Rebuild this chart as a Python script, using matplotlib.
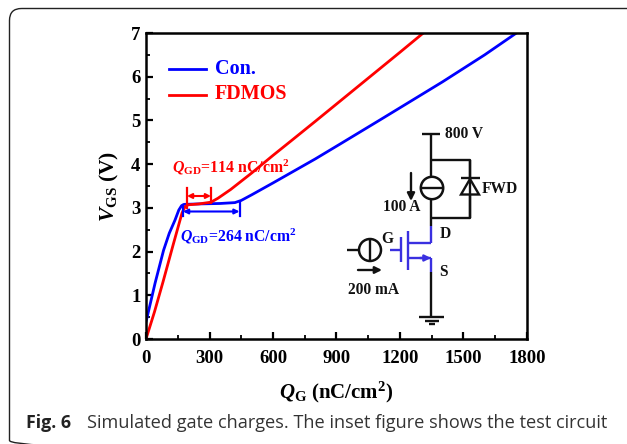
import matplotlib
matplotlib.use('Agg')
import matplotlib.pyplot as plt
from matplotlib.patches import FancyBboxPatch, Circle

W, H = 627, 444
con_q = [0, 3, 43, 83, 110, 137, 155, 168, 180, 250, 350, 420, 450, 500, 600, 800, 917, 1105, 1200, 1400, 1600, 1750]
con_v = [0.4, 0.45, 1.28, 2.03, 2.42, 2.72, 2.95, 3.05, 3.08, 3.09, 3.1, 3.12, 3.17, 3.3, 3.57, 4.12, 4.46, 5.01, 5.29, 5.88, 6.5, 7.0]
fd_q = [0, 40, 80, 128, 170, 185, 200, 250, 307, 340, 400, 500, 600, 690, 800, 1000, 1200, 1310]
fd_v = [0.0, 0.62, 1.3, 2.15, 2.88, 3.03, 3.07, 3.09, 3.13, 3.22, 3.42, 3.8, 4.2, 4.55, 4.98, 5.77, 6.56, 7.0]
x_ticks = [0, 300, 600, 900, 1200, 1500, 1800]
y_ticks = [0, 1, 2, 3, 4, 5, 6, 7]
caption = 'Simulated gate charges. The inset figure shows the test circuit'

plt.rcParams['font.family'] = ['Liberation Serif']
plt.rcParams['mathtext.fontset'] = 'custom'
plt.rcParams['mathtext.rm'] = 'Liberation Serif:bold'
plt.rcParams['mathtext.it'] = 'Liberation Serif:bold:italic'
plt.rcParams['mathtext.bf'] = 'Liberation Serif:bold'

BLUE, RED = '#0000FF', '#FF0000'
fig = plt.figure(figsize=(W/100, H/100), dpi=100)
bg = fig.add_axes([0, 0, 1, 1]); bg.set_xlim(0, W); bg.set_ylim(H, 0); bg.axis('off')
bg.add_patch(FancyBboxPatch((9.5, 8.5), 630, 444, boxstyle='round,pad=0,rounding_size=12', fc='none', ec='#222222', lw=1))
bg.text(26, 423, 'Fig. 6', family='Open Sans', weight='bold', fontsize=12.8, va='center', color='#222222')
bg.text(87, 423, caption, family='Open Sans', fontsize=13.05, va='center', color='#333333')

ax = fig.add_axes([146/W, 1-339/H, (527-146)/W, (339-33)/H])
ax.patch.set_alpha(0)
ax.plot(con_q, con_v, color=BLUE, lw=2)
ax.plot(fd_q, fd_v, color=RED, lw=2)
ax.set_xlim(0, 1800); ax.set_ylim(0, 7)
ax.set_xticks(x_ticks); ax.set_yticks(y_ticks)
ax.set_xticks(range(150, 1800, 300), minor=True)
ax.set_yticks([i + .5 for i in range(7)], minor=True)
ax.tick_params(which='major', direction='in', length=5, width=1.6, labelsize=13.5, pad=4)
ax.tick_params(which='minor', direction='in', length=3, width=1.3)
ax.tick_params(axis='x', which='major', pad=8)
for l in ax.get_xticklabels() + ax.get_yticklabels():
    l.set_fontweight('bold')
for s in ax.spines.values():
    s.set_linewidth(1.8)
ax.set_xlabel(r'$Q_{\mathrm{G}}$ (nC/cm$^{\mathrm{2}}$)', fontsize=15, weight='bold', labelpad=9)
ax.set_ylabel(r'$V_{\mathrm{GS}}$ (V)', fontsize=15.5, weight='bold', labelpad=7)

ov = fig.add_axes([0, 0, 1, 1]); ov.set_xlim(0, W); ov.set_ylim(H, 0); ov.axis('off')
ov.plot([169, 206], [69, 69], color=BLUE, lw=2)
ov.plot([169, 206], [95, 95], color=RED, lw=2)
ov.text(215, 69, 'Con.', color=BLUE, weight='bold', fontsize=14.5, va='center')
ov.text(215, 94, 'FDMOS', color=RED, weight='bold', fontsize=14.5, va='center')
ov.text(172, 167, r'$Q_{\mathrm{GD}}$=114 nC/cm$^{\mathrm{2}}$', color=RED, fontsize=11.4, weight='bold', va='center')
ov.text(180, 236, r'$Q_{\mathrm{GD}}$=264 nC/cm$^{\mathrm{2}}$', color=BLUE, fontsize=11.3, weight='bold', va='center')

def arrow(x0, y0, x1, y1, c, ms, lw=1.7):
    ov.annotate('', (x1, y1), (x0, y0), arrowprops=dict(arrowstyle='-|>', color=c, lw=lw, mutation_scale=ms, shrinkA=0, shrinkB=0))
def darrow(x0, x1, y, c):
    ov.annotate('', (x0, y), (x1, y), arrowprops=dict(arrowstyle='<|-|>', color=c, lw=1.5, mutation_scale=7, shrinkA=0, shrinkB=0))

ov.plot([187, 187], [188, 208], color=RED, lw=1.6)
ov.plot([211, 211], [188, 203], color=RED, lw=1.6)
darrow(187, 211, 196, RED)
ov.plot([239.5, 239.5], [202, 216], color=BLUE, lw=1.6)
ov.plot([183, 183], [205, 216], color=BLUE, lw=1.6)
darrow(183, 239.5, 211.5, BLUE)

K = '#111111'; PB = '#3A30E0'
def L(xs, ys, c=K, lw=1.7):
    ov.plot(xs, ys, color=c, lw=lw, solid_capstyle='butt')
def T(x, y, s):
    ov.text(x, y, s, weight='bold', fontsize=11.2, color=K, va='center')
L([422, 440], [134, 134]); L([431, 431], [134, 177]); L([431, 431], [199, 226])
L([431, 470, 470, 431], [160.5, 160.5, 218, 218])
ov.add_patch(Circle((432, 188), 11.2, fc='none', ec=K, lw=1.8)); L([421, 443], [188, 188])
L([461, 480], [178.5, 178.5]); ov.fill([470, 461, 479], [179, 194.5, 194.5], fc='none', ec=K, lw=1.7)
L([470, 470], [160, 179]); L([470, 470], [194, 218])
arrow(411, 173, 411, 201, K, 11)
T(383, 207, '100 A'); T(482, 189, 'FWD'); T(440, 234, 'D'); T(439, 272, 'S'); T(381, 239, 'G')
T(445, 134, '800 V')
L([431, 431], [226, 243], PB); L([408, 431], [243, 243], PB); L([408, 408], [231, 270], PB)
L([401, 401], [237, 262], PB); L([390, 401], [250, 250], PB)
L([408, 431], [258, 258], PB); L([431, 431], [258, 272], PB)
arrow(420, 258, 431, 258, PB, 9)
L([431, 431], [272, 317]); L([419, 444], [317, 317]); L([425, 439], [320.5, 320.5]); L([429, 435], [324, 324])
ov.add_patch(Circle((370, 250), 11, fc='none', ec=K, lw=1.8)); L([370, 370], [239, 261]); L([347, 359], [250, 250])
arrow(358, 270, 382, 270, K, 10)
T(348, 290, '200 mA')
fig.savefig('out.png', dpi=100)
